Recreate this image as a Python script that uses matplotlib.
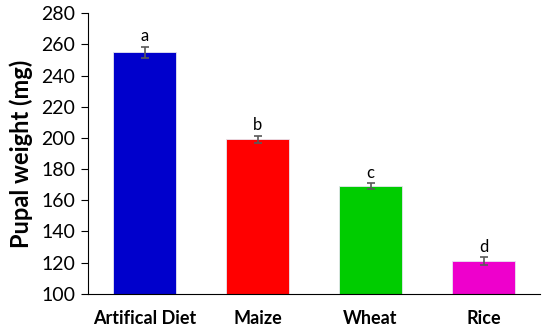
import matplotlib
matplotlib.use("Agg")
from matplotlib import pyplot as plt
import numpy as np

plt.rcParams['font.family'] = ['Lato', 'DejaVu Sans']

diets = ["Artifical Diet", "Maize", "Wheat", "Rice"]
weights = [255, 199, 169, 121]
errors = [3.5, 2.5, 2.0, 2.5]
letters = ["a", "b", "c", "d"]
bar_colors = ["#0000CC", "#FF0000", "#00CC00", "#EE00CC"]

fig = plt.figure(figsize=(5.5, 3.3), dpi=100)
ax = fig.add_axes([0.16, 0.11, 0.822, 0.85])

x = np.arange(len(diets))
ax.bar(x, weights, width=0.56, color=bar_colors, edgecolor="#e6e6f0", linewidth=0.6,
       yerr=errors, capsize=3, error_kw=dict(ecolor="#595959", elinewidth=1.2, capthick=1.2),
       zorder=2)

for xi, w, e, l in zip(x, weights, errors, letters):
    ax.text(xi, w + e + 1.5, l, ha="center", va="bottom", fontsize=12)

ax.set_xlim(-0.5, 3.5)
ax.set_ylim(100, 280)
ax.set_yticks(np.arange(100, 281, 20))
ax.set_xticks(x)
ax.set_xticklabels(diets, fontsize=13, fontweight="bold")
ax.tick_params(axis="y", labelsize=14, direction="out", length=5, pad=4)
ax.tick_params(axis="x", length=0, pad=12)
ax.set_ylabel("Pupal weight (mg)", fontsize=17, fontweight="bold", labelpad=6)

for side in ["top", "right"]:
    ax.spines[side].set_visible(False)
ax.spines["left"].set_color("black")
ax.spines["bottom"].set_color("black")

fig.savefig("out.png", dpi=100)
